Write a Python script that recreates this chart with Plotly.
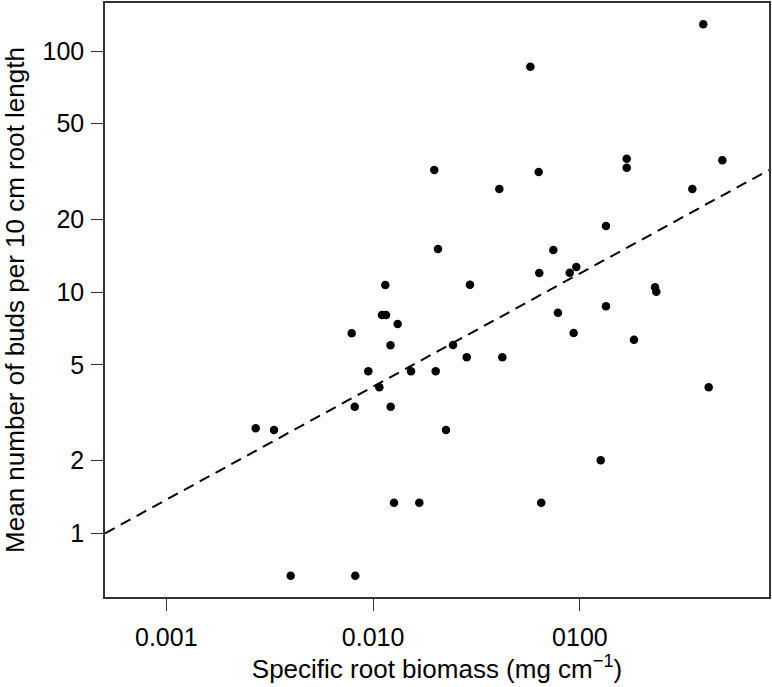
import numpy as np
import plotly.graph_objects as go

# Specific root biomass (mg cm^-1)
srb = [0.395, 0.0576, 0.01976, 0.0632, 0.1684, 0.1684, 0.4884, 0.04076, 0.3497, 0.1337,
       0.0206, 0.0744, 0.0636, 0.0893, 0.0961, 0.01146, 0.0294, 0.2308, 0.2342, 0.0783,
       0.1337, 0.01104, 0.01155, 0.01315, 0.00788, 0.0933, 0.1826, 0.01214, 0.02434, 0.02836,
       0.04215, 0.00948, 0.01525, 0.02008, 0.01072, 0.4196, 0.00815, 0.01216, 0.02252, 0.002706,
       0.003318, 0.1261, 0.01262, 0.01673, 0.0650, 0.003995, 0.0082]
# Mean number of buds per 10 cm root length
buds = [129.2, 86.1, 32.1, 31.5, 35.8, 32.8, 35.3, 26.8, 26.8, 18.8,
        15.1, 14.96, 12.0, 12.05, 12.72, 10.71, 10.74, 10.48, 10.05, 8.22,
        8.74, 8.04, 8.04, 7.38, 6.75, 6.77, 6.35, 6.03, 6.04, 5.37,
        5.37, 4.70, 4.70, 4.70, 4.03, 4.03, 3.35, 3.35, 2.68, 2.73,
        2.68, 2.01, 1.34, 1.34, 1.34, 0.667, 0.667]

# fitted power law: buds = 10**fit_log_intercept * srb**fit_slope
fit_log_intercept = 1.547
fit_slope = 0.4693

x_ticks = [0.001, 0.01, 0.1]
x_tick_labels = ["0.001", "0.010", "0100"]
y_ticks = [1, 2, 5, 10, 20, 50, 100]
y_tick_labels = ["1", "2", "5", "10", "20", "50", "100"]

x_range_log = [-3.2964, -0.0856]
y_range_log = [-0.2642, 2.1995]

fx = np.logspace(x_range_log[0], x_range_log[1], 50)
fy = 10 ** fit_log_intercept * fx ** fit_slope

font_family = "Liberation Sans, Arial, Helvetica, sans-serif"
tick_size = 25
title_size = 26

fig = go.Figure()
fig.add_trace(go.Scatter(x=fx, y=fy, mode="lines",
                         line=dict(color="black", width=2, dash="11px,7px"),
                         hoverinfo="skip", showlegend=False))
fig.add_trace(go.Scatter(x=srb, y=buds, mode="markers",
                         marker=dict(color="black", size=8.5, line=dict(width=0)),
                         showlegend=False))

axis_common = dict(showgrid=False, zeroline=False, showline=True, linecolor="#333",
                   linewidth=1.5, mirror=True, ticks="outside", ticklen=12,
                   tickcolor="#333", tickwidth=1.2, automargin=False,
                   tickfont=dict(family=font_family, size=tick_size, color="black"))

fig.update_xaxes(type="log", range=x_range_log, tickvals=x_ticks, ticktext=x_tick_labels,
                 title=dict(text="Specific root biomass (mg cm<sup>−1</sup>)",
                            font=dict(family=font_family, size=title_size, color="black"),
                            standoff=8),
                 ticklabelstandoff=5, **axis_common)
fig.update_yaxes(type="log", range=y_range_log, tickvals=y_ticks, ticktext=y_tick_labels,
                 title=dict(text="Mean number of buds per 10 cm root length",
                            font=dict(family=font_family, size=title_size, color="black"),
                            standoff=15),
                 ticklabelstandoff=2, **axis_common)

fig.update_layout(width=772, height=687, margin=dict(l=105, r=3, t=3, b=90),
                  plot_bgcolor="white", paper_bgcolor="white",
                  font=dict(family=font_family))

fig.write_html("out.html", config={"displayModeBar": False},
               post_script="document.body.style.margin='0';")
